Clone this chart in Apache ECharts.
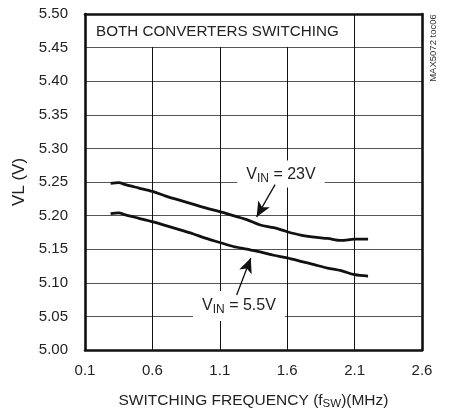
<!DOCTYPE html>
<html>
<head>
<meta charset="utf-8">
<script src="https://cdn.jsdelivr.net/npm/echarts@6/dist/echarts.min.js"></script>
<style>
html,body{margin:0;padding:0;background:#fff;}
#c{width:449px;height:418px;}
</style>
</head>
<body>
<div id="c"></div>
<script>
// Data
var freqMHz = [0.29,0.35,0.4,0.5,0.6,0.7,0.8,0.9,1.0,1.1,1.2,1.3,1.4,1.5,1.6,1.7,1.8,1.9,2.0,2.1,2.2];
var vl23V   = [5.248,5.249,5.246,5.241,5.236,5.229,5.223,5.217,5.211,5.206,5.200,5.194,5.186,5.182,5.176,5.171,5.168,5.166,5.163,5.165,5.165];
var vl5p5V  = [5.203,5.204,5.201,5.196,5.191,5.185,5.179,5.173,5.166,5.160,5.154,5.150,5.146,5.141,5.137,5.132,5.127,5.122,5.118,5.112,5.110];
var xTicks = {min: 0.1, max: 2.6, step: 0.5};
var yTicks = {min: 5.00, max: 5.50, step: 0.05};
// annotation anchors (data coordinates)
var label23 = [1.554, 5.262];
var label55 = [1.242, 5.0656];
var arrow23 = [[1.51, 5.246], [1.373, 5.198]];
var arrow55 = [[1.225, 5.082], [1.330, 5.137]];
var boxCorner = [2.085, 5.45];

var FONT = '"Liberation Sans", Arial, Helvetica, sans-serif';

function pairs(xs, ys){ return xs.map(function(x,i){ return [x, ys[i]]; }); }

var chart = echarts.init(document.getElementById('c'), null, {renderer:'canvas'});

var baseAxisX = {type:'value', min:xTicks.min, max:xTicks.max, interval:xTicks.step};
var baseAxisY = {type:'value', min:yTicks.min, max:yTicks.max, interval:yTicks.step};

var option = {
  animation: false,
  backgroundColor: '#fff',
  grid: {left:85, right:27, top:14, bottom:68, containLabel:false},
  xAxis: [
    Object.assign({}, baseAxisX, {
      position:'bottom', z:5,
      name:'{a|SWITCHING FREQUENCY (f}{s|SW}{a|)(MHz)}',
      nameLocation:'middle', nameGap:41,
      nameTextStyle:{rich:{a:{fontFamily:FONT,fontSize:15.5,color:'#222'}, s:{fontFamily:FONT,fontSize:11.5,color:'#222',padding:[7,0,0,0]}}},
      axisLine:{show:true,onZero:false,lineStyle:{color:'#111',width:2.6}},
      axisTick:{show:false},
      splitLine:{show:false},
      axisLabel:{show:true,margin:13,fontFamily:FONT,fontSize:15,color:'#222',
        formatter:function(v){return v.toFixed(1);}}
    }),
    Object.assign({}, baseAxisX, {
      position:'top', z:5,
      axisLine:{show:true,onZero:false,lineStyle:{color:'#111',width:2.6}},
      axisTick:{show:false}, axisLabel:{show:false}, splitLine:{show:false}
    }),
    Object.assign({}, baseAxisX, {
      position:'bottom', z:0,
      axisLine:{show:false}, axisTick:{show:false}, axisLabel:{show:false},
      splitLine:{show:true,lineStyle:{color:'#111',width:1}}
    })
  ],
  yAxis: [
    Object.assign({}, baseAxisY, {
      position:'left', z:5,
      name:'VL (V)', nameLocation:'middle', nameGap:54,
      nameTextStyle:{fontFamily:FONT,fontSize:17,color:'#222'},
      axisLine:{show:true,onZero:false,lineStyle:{color:'#111',width:2.6}},
      axisTick:{show:false},
      splitLine:{show:false},
      axisLabel:{show:true,margin:17,fontFamily:FONT,fontSize:15,color:'#222',
        formatter:function(v){return v.toFixed(2);}}
    }),
    Object.assign({}, baseAxisY, {
      position:'right', z:5,
      axisLine:{show:true,onZero:false,lineStyle:{color:'#111',width:2.6}},
      axisTick:{show:false}, axisLabel:{show:false}, splitLine:{show:false}
    }),
    Object.assign({}, baseAxisY, {
      position:'left', z:0,
      axisLine:{show:false}, axisTick:{show:false}, axisLabel:{show:false},
      splitLine:{show:true,lineStyle:{color:'#555',width:1}}
    })
  ],
  series: [
    {
      name:'VIN = 23V', type:'line', xAxisIndex:0, yAxisIndex:0, z:2,
      data: pairs(freqMHz, vl23V), smooth:0.3, showSymbol:false, symbol:'none',
      lineStyle:{color:'#111',width:2.8}, silent:true,
      markLine:{
        silent:true, symbol:['none','arrow'], symbolSize:[10,15],
        label:{show:false}, lineStyle:{color:'#111',width:1.3,type:'solid'},
        itemStyle:{color:'#111'},
        emphasis:{disabled:true},
        data:[[{coord:arrow23[0]},{coord:arrow23[1]}]]
      }
    },
    {
      name:'VIN = 5.5V', type:'line', xAxisIndex:0, yAxisIndex:0, z:2,
      data: pairs(freqMHz, vl5p5V), smooth:0.3, showSymbol:false, symbol:'none',
      lineStyle:{color:'#111',width:2.8}, silent:true,
      markLine:{
        silent:true, symbol:['none','arrow'], symbolSize:[10,15],
        label:{show:false}, lineStyle:{color:'#111',width:1.3,type:'solid'},
        itemStyle:{color:'#111'},
        emphasis:{disabled:true},
        data:[[{coord:arrow55[0]},{coord:arrow55[1]}]]
      }
    }
  ]
};
chart.setOption(option);

function px(p){ return chart.convertToPixel({xAxisIndex:0, yAxisIndex:0}, p); }

var tl = px([xTicks.min, yTicks.max]);
var br = px(boxCorner);
var l23 = px(label23);
var l55 = px(label55);
var richV = {
  a:{fontFamily:FONT,fontSize:16,fill:'#222'},
  s:{fontFamily:FONT,fontSize:12,fill:'#222',padding:[8,0,0,0]}
};

chart.setOption({
  graphic: [
    {type:'rect', z:1, silent:true,
      shape:{x:tl[0], y:tl[1], width:br[0]-tl[0]-1, height:br[1]-tl[1]-0.5},
      style:{fill:'#fff'}},
    {type:'text', z:1, silent:true, x:tl[0]+11, y:(tl[1]+br[1])/2+1,
      style:{text:'BOTH CONVERTERS SWITCHING', fontFamily:FONT, fontSize:15.2, fill:'#222',
        align:'left', verticalAlign:'middle'}},
    {type:'text', z:1, silent:true, x:l23[0], y:l23[1],
      style:{text:'{a|V}{s|IN}{a| = 23V}', rich:richV, align:'center', verticalAlign:'middle',
        backgroundColor:'#fff', padding:[4,9,3,9]}},
    {type:'text', z:1, silent:true, x:l55[0], y:l55[1],
      style:{text:'{a|V}{s|IN}{a| = 5.5V}', rich:richV, align:'center', verticalAlign:'middle',
        backgroundColor:'#fff', padding:[5,9,5,9]}},
    {type:'text', z:1, silent:true, x:433, y:48, rotation:Math.PI/2,
      style:{text:'MAX5072 toc06', fontFamily:FONT, fontSize:9.5, fill:'#333',
        align:'center', verticalAlign:'middle'}}
  ]
});
</script>
</body>
</html>
